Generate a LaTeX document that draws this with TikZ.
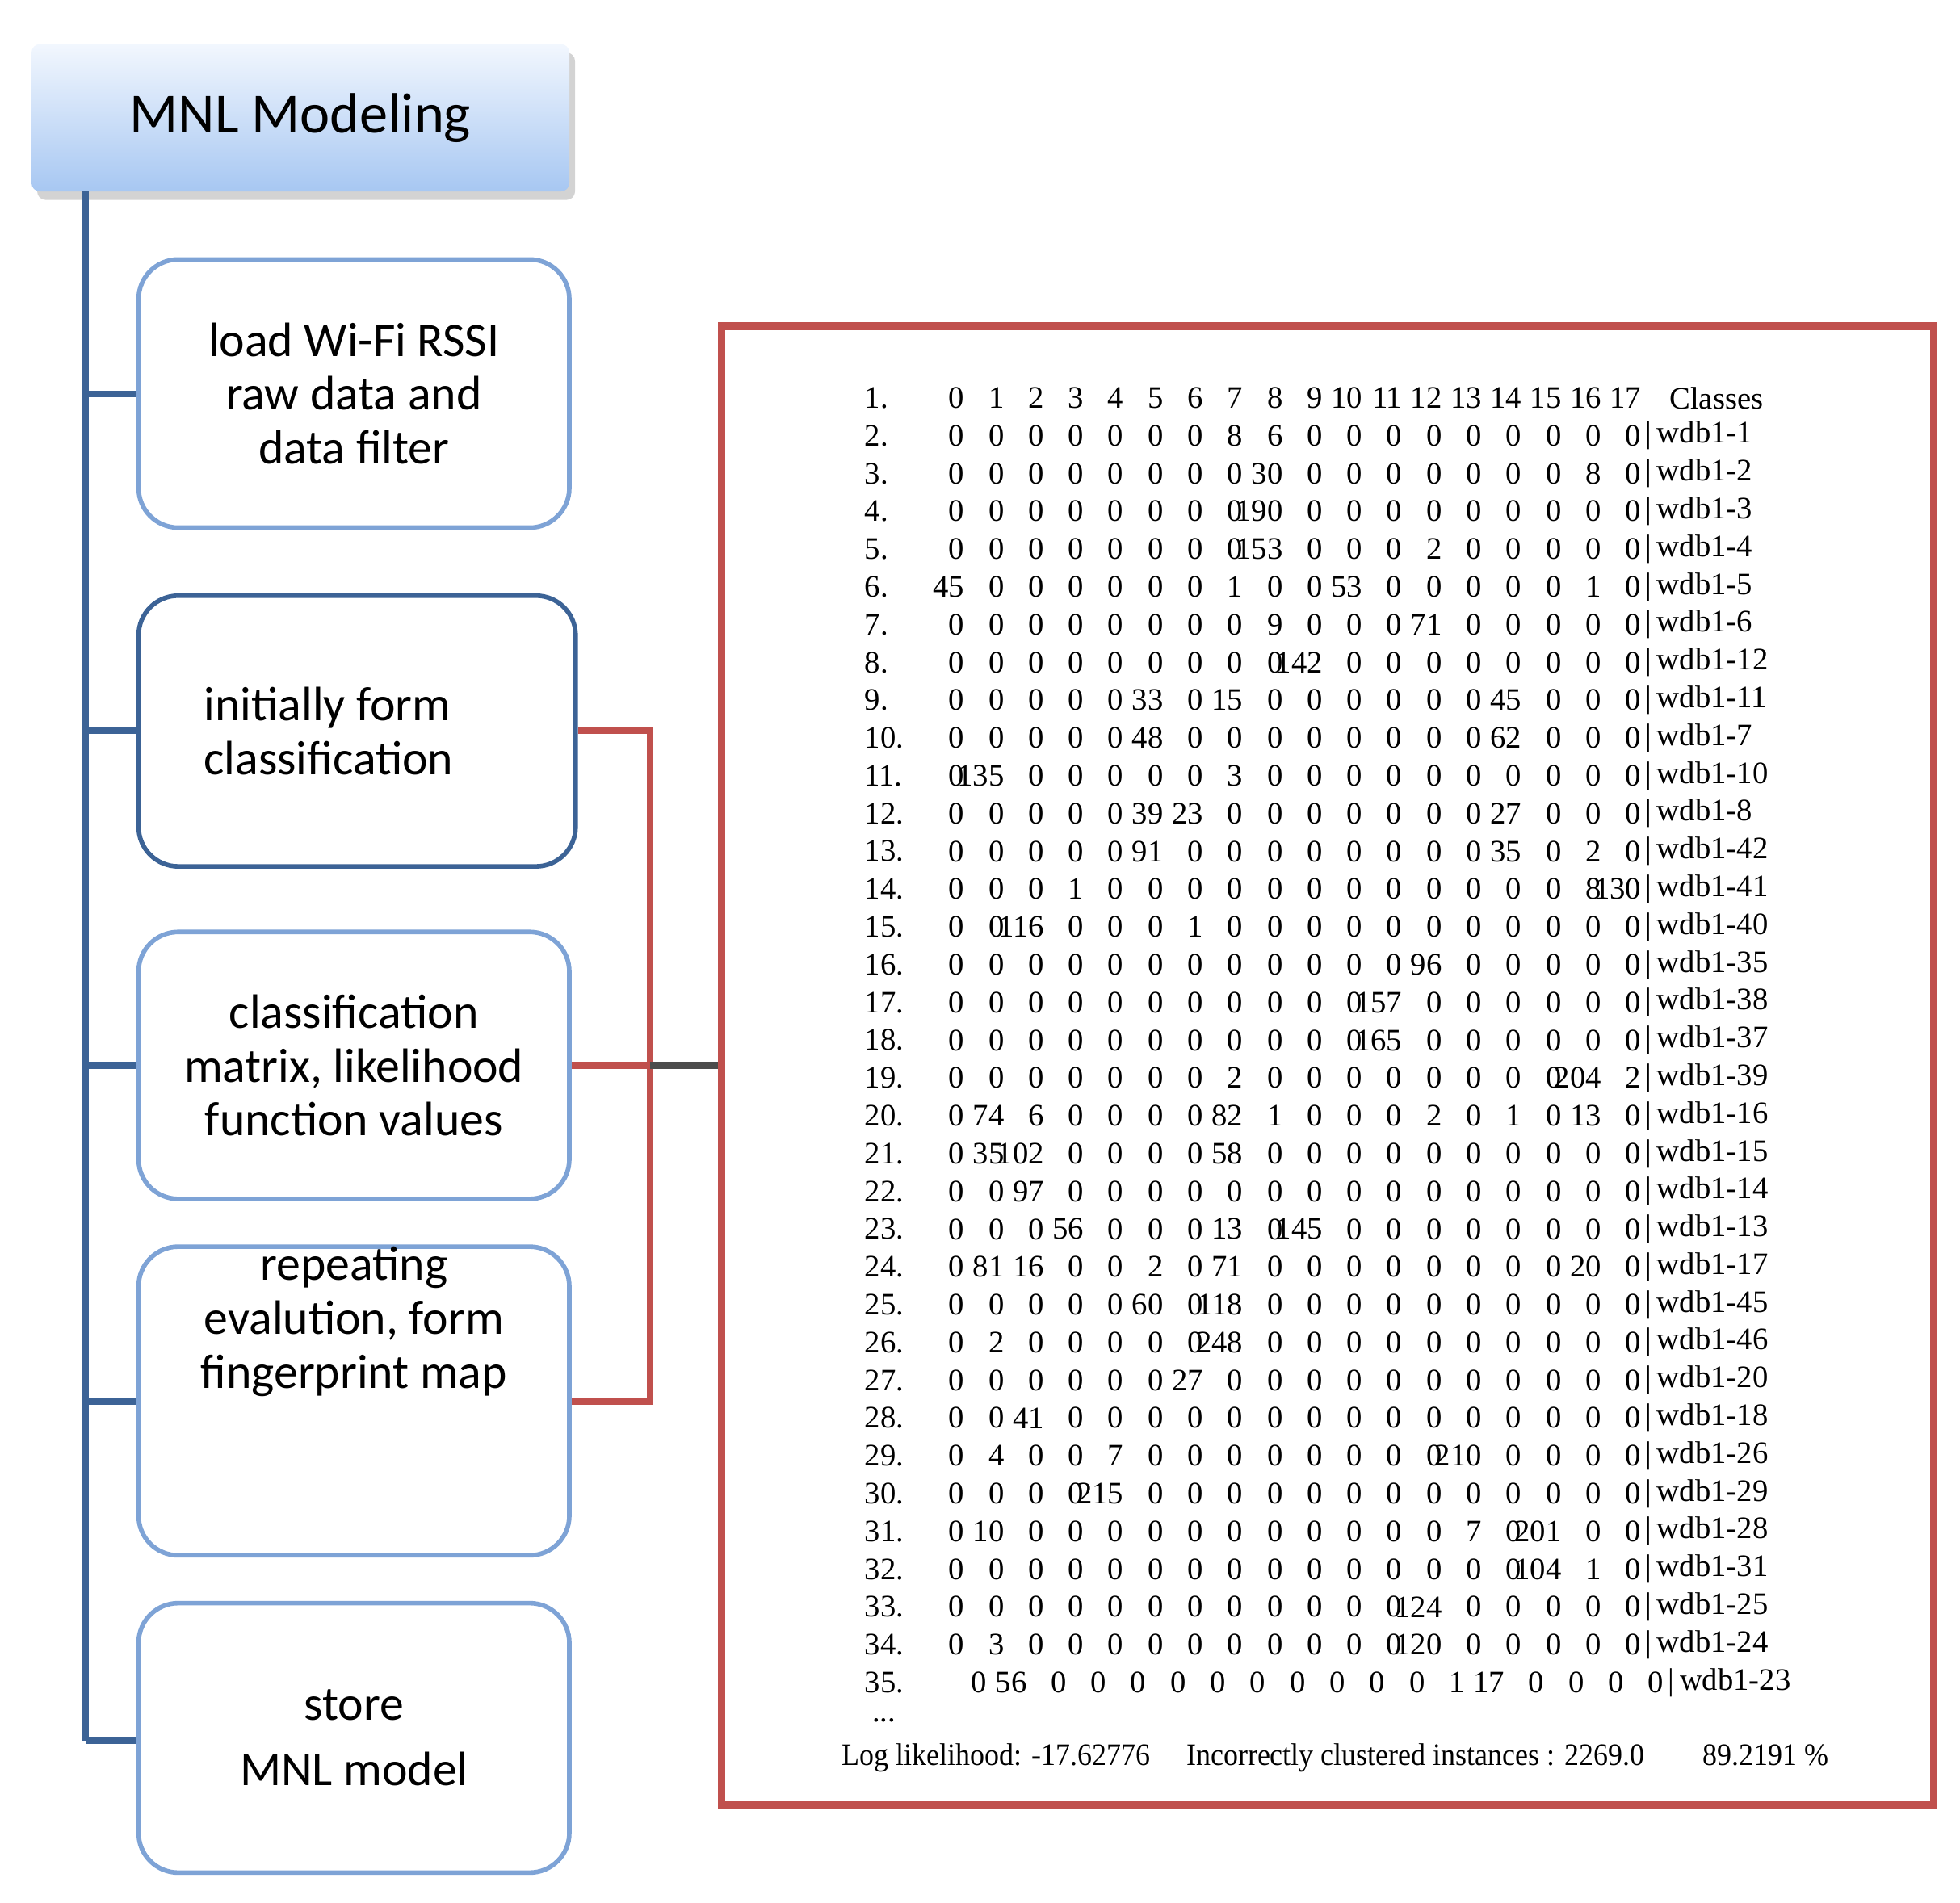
\documentclass[tikz,border=0pt]{standalone}
\usepackage{fontspec}
\setmainfont{Liberation Serif}
\newfontfamily\calf{Carlito}
\usetikzlibrary{shadows}
\definecolor{bl}{HTML}{3C6396}
\definecolor{bxl}{HTML}{7EA3D6}
\definecolor{rd}{HTML}{C0504D}
\definecolor{gtop}{HTML}{F2F7FE}
\definecolor{gbot}{HTML}{A7C7F2}
\def\uu{0.015598cm}
\begin{document}
\begin{tikzpicture}[x=0.015598cm,y=-0.015598cm,
  stp/.style={draw=bxl,line width=1.6pt,rounded corners=14pt,fill=white,font=\calf\fontsize{17}{19}\selectfont,align=center,inner sep=0pt},
  cell/.style={anchor=east,inner sep=0pt,font=\fontsize{11}{13}\selectfont},
  lab/.style={anchor=west,inner sep=0pt,font=\fontsize{11}{13}\selectfont},
  con/.style={draw=rd,line width=2.4pt}]
\useasboundingbox (0,0) rectangle (1556,1511);
% title
\node[draw=none,top color=gtop,bottom color=gbot,minimum width=427*\uu,minimum height=117*\uu,inner sep=0pt,
  drop shadow={opacity=0.35,shadow xshift=2pt,shadow yshift=-3pt},rounded corners=3pt,
  font=\calf\fontsize{20}{22}\selectfont] (title) at (238.5,93.5) {MNL Modeling};
% boxes
\node[stp,minimum width=342*\uu,minimum height=213*\uu] (b1) at (281,312.5) {load Wi-Fi RSSI\\raw data and\\data filter};
\node[stp,draw=bl,minimum width=347*\uu,minimum height=215*\uu,align=left] (b2) at (283.5,580.5) {\hspace*{-20pt}initially form\\\hspace*{-20pt}classification};
\node[stp,minimum width=342*\uu,minimum height=212*\uu] (b3) at (281,846) {classification\\matrix, likelihood\\function values};
\node[stp,minimum width=342*\uu,minimum height=213*\uu] (b4) at (281,1112.5) {repeating\\evalution, form\\fingerprint map\\[40pt]};
\node[stp,minimum width=342*\uu,minimum height=214*\uu] (b5) at (281,1380) {store\\[4pt]MNL model};
% tree
\coordinate (t0) at (68,152);
\coordinate (t5) at (68,1382);
\draw[bl,line width=2.4pt] (t0) -- (t5);
\foreach \b/\y in {b1/313,b2/580,b3/846,b4/1113,b5/1382}
  \draw[bl,line width=2.4pt] (68,\y) -- (\b.west|-0,\y);
% table frame
\node[draw=rd,line width=2.6pt,minimum width=962*\uu,minimum height=1174*\uu,inner sep=0pt] (tab) at (1054,846) {};
% connectors
\coordinate (j2) at (516,580);
\coordinate (j4) at (516,1113);
\coordinate (j3) at (516,846);
\draw[con] (b2.east|-j2) -- (j2) -- (j4) -- (b4.east|-j4);
\draw[con] (b3.east|-j3) -- (j3);
\draw[draw=black!70,line width=2.4pt] (j3) -- (tab.west|-j3);
% table rows
\def\cx{760}\def\cs{31.6}
\foreach \row [count=\r] in {
{0,1,2,3,4,5,6,7,8,9,10,11,12,13,14,15,16,17},
{0,0,0,0,0,0,0,8,6,0,0,0,0,0,0,0,0,0},
{0,0,0,0,0,0,0,0,30,0,0,0,0,0,0,0,8,0},
{0,0,0,0,0,0,0,0,190,0,0,0,0,0,0,0,0,0},
{0,0,0,0,0,0,0,0,153,0,0,0,2,0,0,0,0,0},
{45,0,0,0,0,0,0,1,0,0,53,0,0,0,0,0,1,0},
{0,0,0,0,0,0,0,0,9,0,0,0,71,0,0,0,0,0},
{0,0,0,0,0,0,0,0,0,142,0,0,0,0,0,0,0,0},
{0,0,0,0,0,33,0,15,0,0,0,0,0,0,45,0,0,0},
{0,0,0,0,0,48,0,0,0,0,0,0,0,0,62,0,0,0},
{0,135,0,0,0,0,0,3,0,0,0,0,0,0,0,0,0,0},
{0,0,0,0,0,39,23,0,0,0,0,0,0,0,27,0,0,0},
{0,0,0,0,0,91,0,0,0,0,0,0,0,0,35,0,2,0},
{0,0,0,1,0,0,0,0,0,0,0,0,0,0,0,0,8,130},
{0,0,116,0,0,0,1,0,0,0,0,0,0,0,0,0,0,0},
{0,0,0,0,0,0,0,0,0,0,0,0,96,0,0,0,0,0},
{0,0,0,0,0,0,0,0,0,0,0,157,0,0,0,0,0,0},
{0,0,0,0,0,0,0,0,0,0,0,165,0,0,0,0,0,0},
{0,0,0,0,0,0,0,2,0,0,0,0,0,0,0,0,204,2},
{0,74,6,0,0,0,0,82,1,0,0,0,2,0,1,0,13,0},
{0,35,102,0,0,0,0,58,0,0,0,0,0,0,0,0,0,0},
{0,0,97,0,0,0,0,0,0,0,0,0,0,0,0,0,0,0},
{0,0,0,56,0,0,0,13,0,145,0,0,0,0,0,0,0,0},
{0,81,16,0,0,2,0,71,0,0,0,0,0,0,0,0,20,0},
{0,0,0,0,0,60,0,118,0,0,0,0,0,0,0,0,0,0},
{0,2,0,0,0,0,0,248,0,0,0,0,0,0,0,0,0,0},
{0,0,0,0,0,0,27,0,0,0,0,0,0,0,0,0,0,0},
{0,0,41,0,0,0,0,0,0,0,0,0,0,0,0,0,0,0},
{0,4,0,0,7,0,0,0,0,0,0,0,0,210,0,0,0,0},
{0,0,0,0,215,0,0,0,0,0,0,0,0,0,0,0,0,0},
{0,10,0,0,0,0,0,0,0,0,0,0,0,7,0,201,0,0},
{0,0,0,0,0,0,0,0,0,0,0,0,0,0,0,104,1,0},
{0,0,0,0,0,0,0,0,0,0,0,0,124,0,0,0,0,0},
{0,3,0,0,0,0,0,0,0,0,0,0,120,0,0,0,0,0},
{0,56,0,0,0,0,0,0,0,0,0,0,1,17,0,0,0,0}}{
  \pgfmathsetmacro\yy{316+30*(\r-1)}
  \pgfmathsetmacro\sh{\r==35 ? 18 : 0}
  \node[lab] (n\r) at (686,\yy) {\r.};
  \foreach \v [count=\c from 0] in \row
    \node[cell] (c\r-\c) at ({\cx+6+\cs*\c+\sh},\yy) {\v};
}
\node[lab] (cls) at (1325,316) {Classes};
\foreach \r/\l in {2/1,3/2,4/3,5/4,6/5,7/6,8/12,9/11,10/7,11/10,12/8,13/42,14/41,15/40,16/35,17/38,18/37,19/39,20/16,21/15,22/14,23/13,24/17,25/45,26/46,27/20,28/18,29/26,30/29,31/28,32/31,33/25,34/24,35/23}{
  \pgfmathsetmacro\yy{316+30*(\r-1)}
  \pgfmathsetmacro\sh{\r==35 ? 18 : 0}
  \node[lab] (w\r) at ({1306+\sh},\yy) {|\,wdb1-\l};
}
\node[lab] (dots) at (692,1366) {...};
\node[lab,xscale=0.93,transform shape,anchor=west] (foot) at (668,1396) {Log likelihood: -17.62776\quad\ Incorrectly clustered instances : 2269.0\qquad 89.2191 \%};
\end{tikzpicture}
\end{document}
